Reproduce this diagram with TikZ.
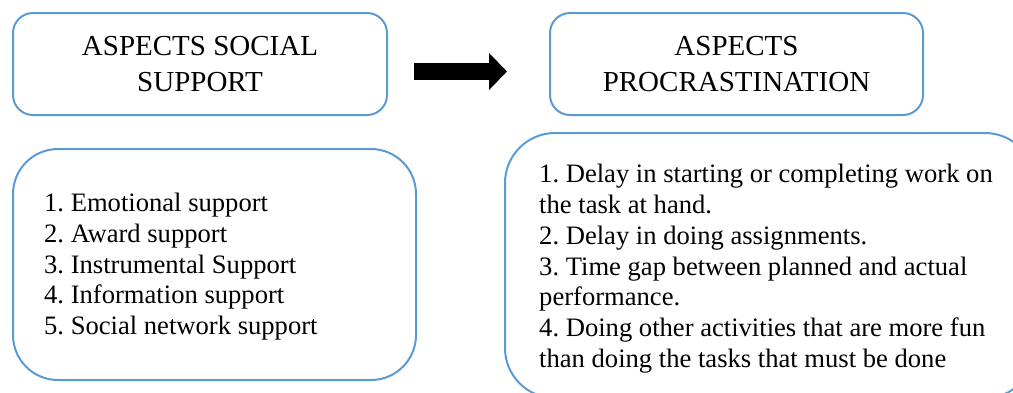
\documentclass[tikz,border=0pt]{standalone}
\usepackage{fontspec}
\setmainfont{Liberation Serif}
\usetikzlibrary{arrows.meta}
\definecolor{boxblue}{RGB}{91,155,213}
\frenchspacing
\tikzset{
  titlebox/.style={draw=boxblue, line width=2pt, rounded corners=20pt, inner sep=0pt, outer sep=0pt,
    minimum width=374pt, minimum height=102pt, align=center,
    font={\fontsize{29}{35.5}\selectfont}},
  listbox/.style={draw=boxblue, line width=2pt, rounded corners=45pt, inner sep=0pt, outer sep=0pt},
  listtext/.style={anchor=west, align=left, inner sep=0pt, font={\fontsize{26.6}{30.7}\selectfont\frenchspacing}},
  bigarrow/.style={line width=17pt, -{Triangle[length=18pt,width=36pt]}}
}
\begin{document}
\begin{tikzpicture}[x=1pt,y=1pt]
\useasboundingbox (0,0) rectangle (1013,-392);
\clip (0,0) rectangle (1013,-392);
\node[titlebox] (b1) at (200,-64) {ASPECTS SOCIAL\\SUPPORT};
\node[titlebox, minimum width=373pt] (b2) at (736.5,-64) {ASPECTS\\PROCRASTINATION};
\node[listbox, minimum width=403pt, minimum height=231pt] (b3) at (214.5,-264.5) {};
\node[listbox, rounded corners=50pt, minimum width=530pt, minimum height=265pt] (b4) at (770,-265.5) {};
\node[listtext] (t3) at (44,-266.7) {1. Emotional support\\2. Award support\\3. Instrumental Support\\4. Information support\\5. Social network support};
\node[listtext] (t4) at (539,-268.7) {1. Delay in starting or completing work on\\the task at hand.\\2. Delay in doing assignments.\\3. Time gap between planned and actual\\performance.\\4. Doing other activities that are more fun\\than doing the tasks that must be done};
\draw[bigarrow] ([xshift=27pt,yshift=-7.5pt]b1.east) -- ([xshift=-43pt,yshift=-7.5pt]b2.west);
\end{tikzpicture}
\end{document}
